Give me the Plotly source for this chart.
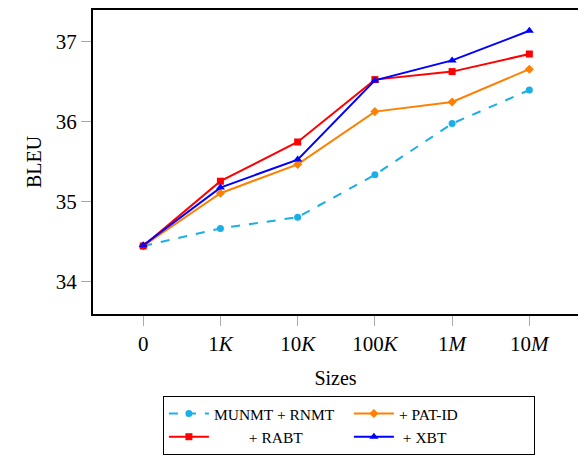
import plotly.graph_objects as go

sizes = ["0", "1<i>K</i>", "10<i>K</i>", "100<i>K</i>", "1<i>M</i>", "10<i>M</i>"]
xpos = [0, 1, 2, 3, 4, 5]
munmt = [34.44, 34.66, 34.80, 35.33, 35.97, 36.39]
patid = [34.44, 35.10, 35.46, 36.12, 36.24, 36.65]
rabt = [34.44, 35.25, 35.74, 36.52, 36.62, 36.84]
xbt = [34.45, 35.17, 35.52, 36.51, 36.76, 37.13]
yticks = [34, 35, 36, 37]
names = ["MUNMT + RNMT", "+ PAT-ID", "+ RABT", "+ XBT"]
pads = [("", ""), ("", "&nbsp;" * 7), ("&nbsp;" * 9, ""), ("&nbsp;", "")]

series = [
    (munmt, "#1AAFE6", "circle", "dash", 7),
    (patid, "#FF8000", "diamond", "solid", 7),
    (rabt, "#FF0000", "square", "solid", 7),
    (xbt, "#0000FF", "triangle-up", "solid", 8),
]

fig = go.Figure()
for (vals, col, sym, dash, ms), name, (pre, post) in zip(series, names, pads):
    fig.add_trace(go.Scatter(
        x=xpos, y=vals, name=pre + name + post, mode="lines+markers",
        line=dict(color=col, width=2, dash=dash),
        marker=dict(symbol=sym, size=ms, color=col),
    ))

fig.update_layout(
    width=578, height=449,
    margin=dict(l=85, r=8, t=2, b=143, autoexpand=False),
    paper_bgcolor="white", plot_bgcolor="white",
    font=dict(family="Liberation Serif", color="black"),
    showlegend=True,
    legend=dict(
        orientation="h", xref="container", yref="container",
        x=0.268, xanchor="left", y=0.1359, yanchor="top",
        bordercolor="black", borderwidth=1,
        entrywidth=130, entrywidthmode="pixels", itemwidth=40,
        font=dict(size=15.5, family="Liberation Serif"),
        tracegroupgap=0,
    ),
)
fig.update_xaxes(
    range=[-0.65, 5.63], tickvals=xpos, ticktext=sizes,
    showgrid=False, zeroline=False, automargin=False,
    showline=True, linecolor="black", linewidth=2, mirror="ticks",
    ticks="outside", ticklen=10, tickcolor="#AAAAAA", tickwidth=1,
    tickfont=dict(size=21),
    title=dict(text="Sizes", font=dict(size=20), standoff=16),
)
fig.update_yaxes(
    range=[33.59, 37.39], tickvals=yticks,
    showgrid=False, zeroline=False, automargin=False,
    showline=True, linecolor="black", linewidth=2, mirror="ticks",
    ticks="outside", ticklen=10, tickcolor="#AAAAAA", tickwidth=1,
    tickfont=dict(size=21),
    title=dict(text="BLEU", font=dict(size=20), standoff=9),
)
fig.write_html("out.html")
